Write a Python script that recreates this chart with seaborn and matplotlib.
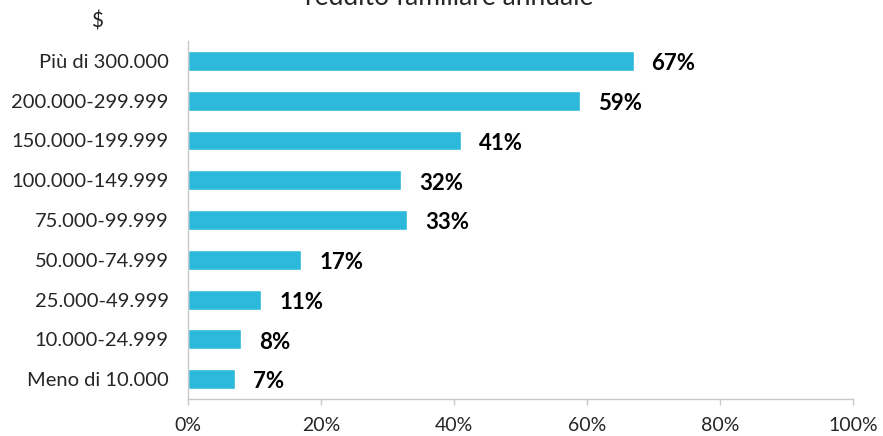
import matplotlib
matplotlib.use("Agg")
import matplotlib.pyplot as plt
import seaborn as sns
import pandas as pd

# Household income brackets and share per bracket
categories = [
    "Più di 300.000",
    "200.000-299.999",
    "150.000-199.999",
    "100.000-149.999",
    "75.000-99.999",
    "50.000-74.999",
    "25.000-49.999",
    "10.000-24.999",
    "Meno di 10.000",
]
values = [67, 59, 41, 32, 33, 17, 11, 8, 7]
xticks = [0, 20, 40, 60, 80, 100]
xtick_labels = ["0%", "20%", "40%", "60%", "80%", "100%"]

sns.set_theme(style="white")
plt.rcParams["font.family"] = ["Lato", "DejaVu Sans"]

df = pd.DataFrame({"reddito": categories, "quota": values})

fig = plt.figure(figsize=(8.83, 4.36), dpi=100)
ax = fig.add_axes([188 / 883, 1 - 399 / 436, (853 - 188) / 883, (399 - 41) / 436])

bar_color = "#2cb9dc"
sns.barplot(data=df, x="quota", y="reddito", orient="h", color=bar_color,
            width=0.5, saturation=1, ax=ax)

for patch, v in zip(ax.patches, values):
    y = patch.get_y() + patch.get_height() / 2
    ax.annotate(f"{v}%", xy=(v, y), xytext=(13, -2), textcoords="offset points",
                ha="left", va="center", fontsize=16, fontweight="bold",
                color="black")

ax.set_xlim(0, 100)
ax.set_xticks(xticks)
ax.set_xticklabels(xtick_labels, fontsize=14)
ax.set_ylabel("")
ax.set_xlabel("")
ax.tick_params(axis="y", length=0, labelsize=14.5, pad=14)
ax.tick_params(axis="x", length=4, width=1, color="#c8c8c8", pad=9, direction="out",
               bottom=True)
for side in ["top", "right"]:
    ax.spines[side].set_visible(False)
for side in ["left", "bottom"]:
    ax.spines[side].set_color("#c8c8c8")
    ax.spines[side].set_linewidth(1)

fig.text(449 / 883, 1 - 5 / 436, "reddito familiare annuale", ha="center",
         va="baseline", fontsize=19)
fig.text(97 / 883, 1 - 21 / 436, "$", ha="center", va="center", fontsize=15)

fig.savefig("out.png", dpi=100)
